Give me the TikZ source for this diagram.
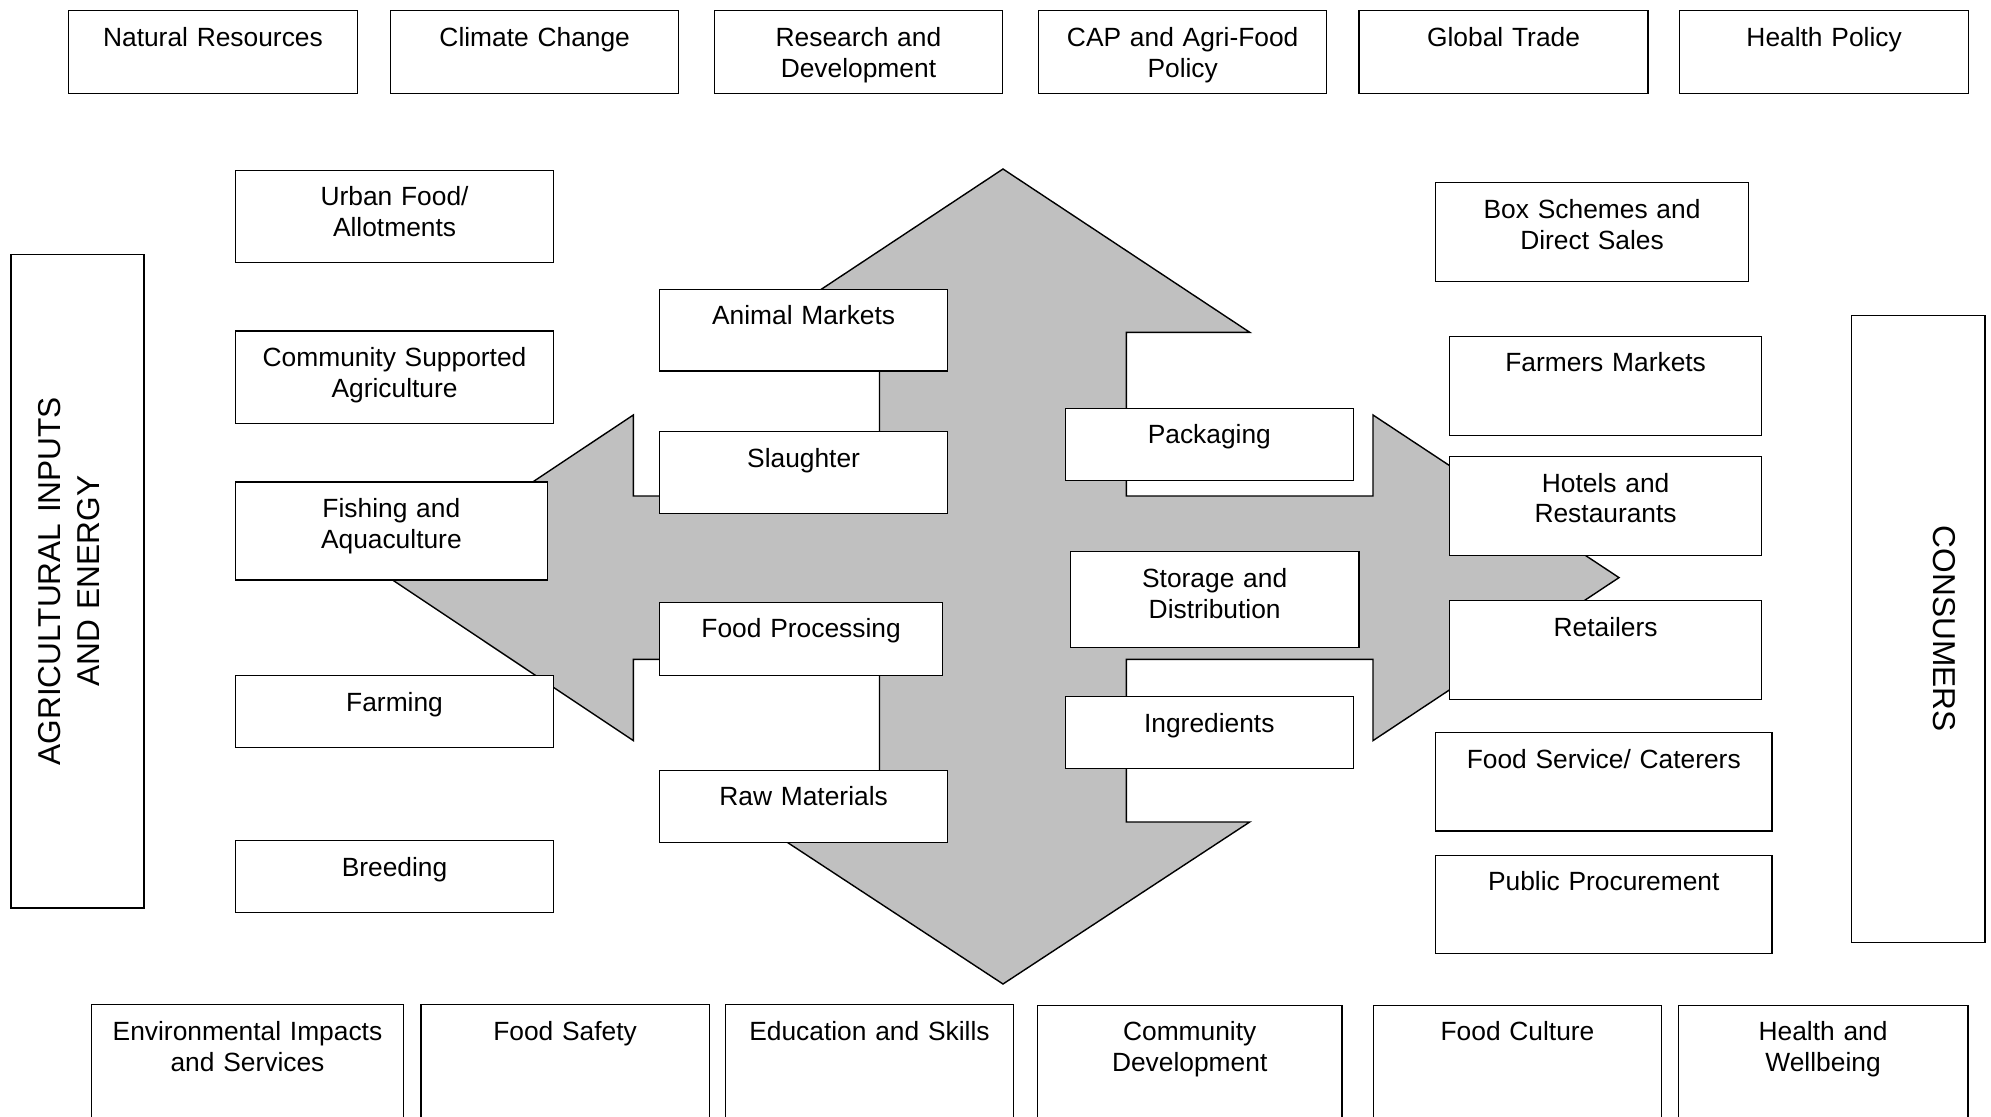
\documentclass[tikz,border=0pt]{standalone}
\usepackage{fontspec}
\setmainfont{Liberation Sans}
\definecolor{ArrowGrey}{RGB}{192,192,192}

\begin{document}
\begin{tikzpicture}[x=1cm, y=-1cm,
		box/.style 2 args={draw, fill=white, anchor=north west, inner sep=0pt, align=center,
			font=\fontsize{7.5}{8.8}\selectfont, text width=#1cm, text height=0.355cm, text depth=#2cm-0.355cm},
		sidebox/.style={draw, fill=white, inner sep=0pt, align=center,
			font=\fontsize{9}{11.1}\selectfont, text width=#1cm}]
		\useasboundingbox (0,0) rectangle (19.91,11.17);
		% the grey cross behind the chain
		\draw[fill=ArrowGrey] (10.03,1.69) -- (12.497,3.323) -- (11.264,3.323) -- (11.264,4.96)
			-- (13.73,4.96) -- (13.73,4.15) -- (16.19,5.776) -- (13.73,7.406) -- (13.73,6.593)
			-- (11.264,6.593) -- (11.264,8.22) -- (12.497,8.22) -- (10.03,9.84) -- (7.563,8.22)
			-- (8.795,8.22) -- (8.795,6.593) -- (6.333,6.593) -- (6.333,7.406) -- (3.89,5.776)
			-- (6.333,4.15) -- (6.333,4.96) -- (8.795,4.96) -- (8.795,3.323) -- (7.563,3.323) -- cycle;
		% top row
		\node[box={2.885}{0.83}] (NaturalResources) at (0.68,0.10) {Natural Resources};
		\node[box={2.88}{0.83}] (ClimateChange) at (3.90,0.10) {Climate Change};
		\node[box={2.883}{0.83}] (Research) at (7.136,0.10) {Research and\\Development};
		\node[box={2.88}{0.83}] (AgriFoodPolicy) at (10.38,0.10) {CAP and Agri-Food\\Policy};
		\node[box={2.889}{0.83}] (GlobalTrade) at (13.584,0.10) {Global Trade};
		\node[box={2.888}{0.83}] (HealthPolicy) at (16.79,0.10) {Health Policy};
		% producers
		\node[box={3.183}{0.923}] (UrbanFood) at (2.347,1.697) {Urban Food/\\Allotments};
		\node[box={3.183}{0.924}] (CommunityAgri) at (2.347,3.303) {Community Supported\\Agriculture};
		\node[box={3.119}{0.978}] (Fishing) at (2.347,4.814) {Fishing and\\Aquaculture};
		\node[box={3.183}{0.722}] (Farming) at (2.347,6.748) {Farming};
		\node[box={3.183}{0.721}] (Breeding) at (2.347,8.399) {Breeding};
		% processing
		\node[box={2.882}{0.816}] (AnimalMarkets) at (6.588,2.887) {Animal Markets};
		\node[box={2.882}{0.815}] (Slaughter) at (6.588,4.31) {Slaughter};
		\node[box={2.832}{0.732}] (FoodProcessing) at (6.588,6.016) {Food Processing};
		\node[box={2.882}{0.722}] (RawMaterials) at (6.588,7.695) {Raw Materials};
		\node[box={2.882}{0.723}] (Packaging) at (10.645,4.077) {Packaging};
		\node[box={2.889}{0.961}] (Storage) at (10.695,5.509) {Storage and\\Distribution};
		\node[box={2.882}{0.722}] (Ingredients) at (10.645,6.958) {Ingredients};
		% outlets
		\node[box={3.129}{0.99}] (BoxSchemes) at (14.349,1.82) {Box Schemes and\\Direct Sales};
		\node[box={3.122}{0.99}] (FarmersMarkets) at (14.488,3.357) {Farmers Markets};
		\node[box={3.122}{0.987}] (Hotels) at (14.488,4.558) {Hotels and\\Restaurants};
		\node[box={3.122}{0.988}] (Retailers) at (14.488,5.998) {Retailers};
		\node[box={3.363}{0.983}] (FoodService) at (14.349,7.32) {Food Service/ Caterers};
		\node[box={3.363}{0.983}] (Procurement) at (14.349,8.545) {Public Procurement};
		% bottom row, cut by the page edge
		\node[box={3.124}{1.3}] (EnvImpacts) at (0.906,10.04) {Environmental Impacts\\and Services};
		\node[box={2.882}{1.3}] (FoodSafety) at (4.203,10.04) {Food Safety};
		\node[box={2.885}{1.3}] (Education) at (7.245,10.04) {Education and Skills};
		\node[box={3.046}{1.3}] (CommunityDev) at (10.367,10.045) {Community\\Development};
		\node[box={2.876}{1.3}] (FoodCulture) at (13.73,10.045) {Food Culture};
		\node[box={2.895}{1.3}] (Wellbeing) at (16.776,10.045) {Health and\\Wellbeing};
		% the two ends
		\node[sidebox=6.537, rotate=90, text height=0.50cm, text depth=0.832cm] (AgriInputs) at (0.774,5.812) {AGRICULTURAL INPUTS\\AND ENERGY};
		\node[sidebox=6.27, rotate=-90, text height=0.51cm, text depth=0.823cm] (Consumers) at (19.182,6.288) {CONSUMERS};
\end{tikzpicture}
\end{document}
